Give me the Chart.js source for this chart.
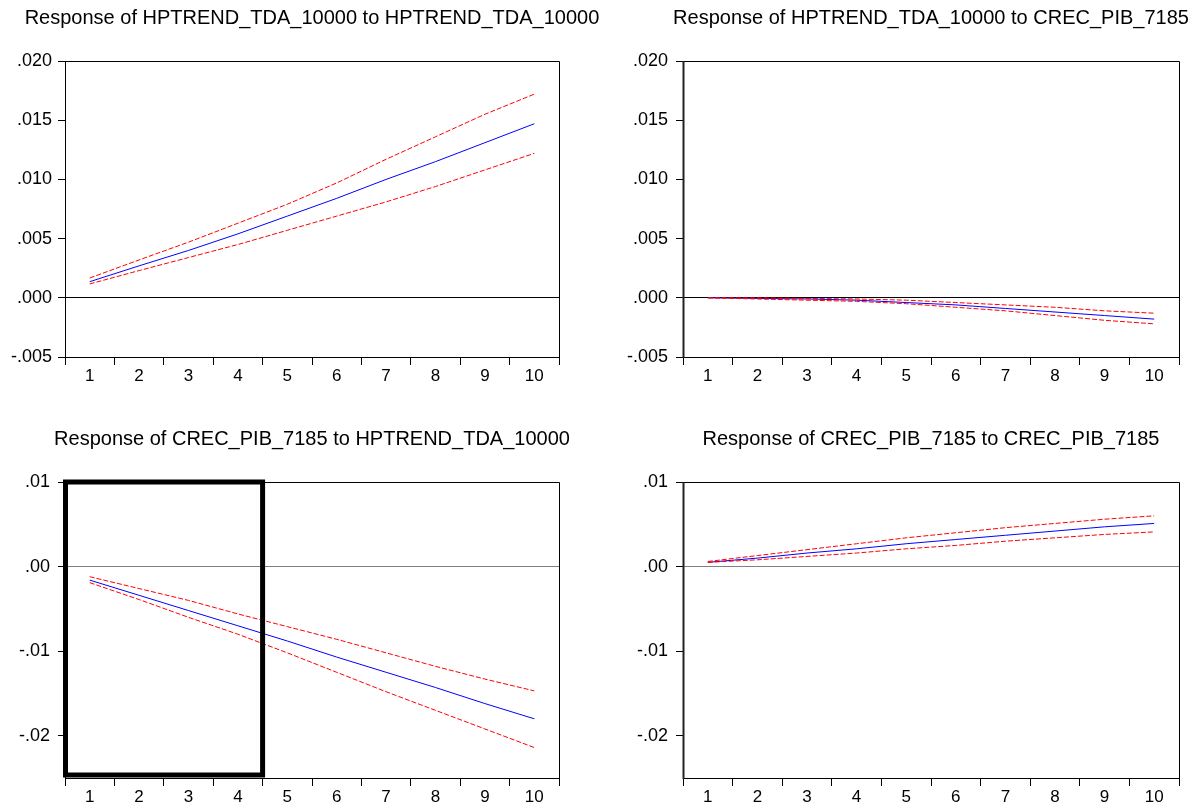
<!DOCTYPE html>
<html>
<head>
<meta charset="utf-8">
<script src="https://cdn.jsdelivr.net/npm/chart.js@4.4.1/dist/chart.umd.min.js"></script>
<style>
  html, body { margin: 0; padding: 0; background: #fff; width: 1200px; height: 807px; overflow: hidden; }
  canvas { position: absolute; }
</style>
</head>
<body>
<canvas id="c1" width="624" height="400" style="left:0px;top:0px"></canvas>
<canvas id="c2" width="662" height="400" style="left:600px;top:0px"></canvas>
<canvas id="c3" width="624" height="400" style="left:0px;top:421px"></canvas>
<canvas id="c4" width="662" height="400" style="left:600px;top:421px"></canvas>
<script>
// ---- Data ----
const periods = ['1', '2', '3', '4', '5', '6', '7', '8', '9', '10'];

// Response of HPTREND_TDA_10000 to HPTREND_TDA_10000
const hpToHp      = [0.00136, 0.0027, 0.0040, 0.0054, 0.0069, 0.0084, 0.0100, 0.0115, 0.0131, 0.0147];
const hpToHpUpper = [0.00167, 0.0032, 0.0047, 0.0063, 0.0079, 0.0097, 0.0117, 0.0136, 0.0155, 0.0172];
const hpToHpLower = [0.00117, 0.0023, 0.0034, 0.0045, 0.0057, 0.0069, 0.0081, 0.0094, 0.0108, 0.0122];

// Response of HPTREND_TDA_10000 to CREC_PIB_7185
const hpToPib      = [0.0, -0.00005, -0.0001, -0.0002, -0.0004, -0.0006, -0.0009, -0.0012, -0.0015, -0.0018];
const hpToPibUpper = [0.0, 0.0, -0.00005, -0.0001, -0.0002, -0.0004, -0.0006, -0.0008, -0.0011, -0.0013];
const hpToPibLower = [0.0, -0.0001, -0.0002, -0.0003, -0.0005, -0.0008, -0.0011, -0.0015, -0.0019, -0.0022];

// Response of CREC_PIB_7185 to HPTREND_TDA_10000
const pibToHp      = [-0.0016, -0.0034, -0.0052, -0.0070, -0.0088, -0.0107, -0.0125, -0.0143, -0.0162, -0.0180];
const pibToHpUpper = [-0.0012, -0.0026, -0.0040, -0.0056, -0.0071, -0.0086, -0.0102, -0.0118, -0.0133, -0.0147];
const pibToHpLower = [-0.0019, -0.0039, -0.0060, -0.0080, -0.0102, -0.0125, -0.0148, -0.0170, -0.0192, -0.0214];

// Response of CREC_PIB_7185 to CREC_PIB_7185
const pibToPib      = [0.0005, 0.0010, 0.0016, 0.0021, 0.0027, 0.0032, 0.0037, 0.0042, 0.0047, 0.0051];
const pibToPibUpper = [0.0006, 0.0013, 0.0020, 0.0027, 0.0034, 0.0040, 0.0046, 0.0051, 0.0056, 0.0060];
const pibToPibLower = [0.0005, 0.0008, 0.0012, 0.0016, 0.0021, 0.0025, 0.0030, 0.0034, 0.0038, 0.0041];

// Tick values / labels
const topTickValues = [-0.005, 0, 0.005, 0.010, 0.015, 0.020];
const topTickLabels = ['-.005', '.000', '.005', '.010', '.015', '.020'];
const bottomTickValues = [-0.02, -0.01, 0, 0.01];
const bottomTickLabels = ['-.02', '-.01', '.00', '.01'];

// Highlight box (periods 1..4) in the lower-left panel
const highlightFrom = '1';
const highlightTo = '4';

const titles = [
  'Response of HPTREND_TDA_10000 to HPTREND_TDA_10000',
  'Response of HPTREND_TDA_10000 to CREC_PIB_7185',
  'Response of CREC_PIB_7185 to HPTREND_TDA_10000',
  'Response of CREC_PIB_7185 to CREC_PIB_7185'
];

// ---- Drawing ----
const FONT = "'Liberation Sans', Arial, sans-serif";

const framePlugin = {
  id: 'frame',
  afterDatasetsDraw(chart, args, opts) {
    const ctx = chart.ctx, a = chart.chartArea;
    const l = Math.round(a.left) + 0.5, r = Math.round(a.right) + 0.5;
    const t = Math.round(a.top) + 0.5, b = Math.round(a.bottom) + 0.5;
    ctx.save();
    ctx.strokeStyle = '#000';
    ctx.lineWidth = 1;
    ctx.beginPath();
    ctx.moveTo(l, t); ctx.lineTo(r, t); ctx.lineTo(r, b); ctx.lineTo(l, b);
    ctx.stroke();
    ctx.lineWidth = opts.leftWidth || 1;
    ctx.strokeStyle = opts.leftColor || '#000';
    ctx.beginPath();
    ctx.moveTo(l, t - 0.5); ctx.lineTo(l, b + 0.5);
    ctx.stroke();
    if (opts.highlight) {
      const xs = chart.scales.x;
      const i0 = periods.indexOf(opts.highlight[0]);
      const i1 = periods.indexOf(opts.highlight[1]);
      const half = (xs.getPixelForValue(1) - xs.getPixelForValue(0)) / 2;
      const x0 = xs.getPixelForValue(i0) - half + 0.5;
      const x1 = xs.getPixelForValue(i1) + half;
      ctx.lineWidth = 5;
      ctx.strokeStyle = '#000';
      ctx.strokeRect(x0, a.top, x1 - x0, a.bottom - 3 - a.top);
    }
    ctx.restore();
  }
};

function makeChart(id, title, mid, upper, lower, tickValues, tickLabels, yMin, yMax, leftW, labelPad, zeroColor, frameOpts) {
  const lineCommon = { pointRadius: 0, borderWidth: 1, tension: 0, fill: false };
  return new Chart(document.getElementById(id), {
    type: 'line',
    data: {
      labels: periods,
      datasets: [
        Object.assign({ data: upper, borderColor: '#FF0000', borderDash: [5, 2] }, lineCommon),
        Object.assign({ data: lower, borderColor: '#FF0000', borderDash: [5, 2] }, lineCommon),
        Object.assign({ data: mid, borderColor: '#0000FF' }, lineCommon)
      ]
    },
    options: {
      responsive: false,
      animation: false,
      devicePixelRatio: 1,
      layout: { padding: 0 },
      plugins: {
        legend: { display: false },
        tooltip: { enabled: false },
        title: {
          display: true,
          text: title,
          color: '#000',
          font: { family: FONT, size: 20, weight: 'normal', lineHeight: 1.2 },
          padding: { top: 6, bottom: 31 }
        },
        frame: frameOpts
      },
      scales: {
        x: {
          type: 'category',
          offset: true,
          grid: { offset: true, drawOnChartArea: false, drawTicks: true, tickLength: 8, color: '#000', tickColor: '#000', lineWidth: 1 },
          border: { display: false },
          ticks: { color: '#000', font: { family: FONT, size: 17 }, padding: 1, maxRotation: 0, autoSkip: false },
          afterFit(s) { s.height = 43; }
        },
        y: {
          type: 'linear',
          position: 'left',
          min: yMin,
          max: yMax,
          afterBuildTicks(s) { s.ticks = tickValues.map(v => ({ value: v })); },
          grid: {
            drawTicks: true,
            tickLength: 7,
            tickColor: '#000',
            lineWidth: 1,
            color: c => (c.tick && Math.abs(c.tick.value) < 1e-12) ? zeroColor : 'rgba(0,0,0,0)'
          },
          border: { display: false },
          ticks: {
            color: '#000',
            padding: labelPad,
            font: { family: FONT, size: 18 },
            callback: (v) => {
              const i = tickValues.findIndex(t => Math.abs(t - v) < 1e-9);
              return i >= 0 ? tickLabels[i] : '';
            }
          },
          afterFit(s) { s.width = leftW; }
        },
        yRight: {
          type: 'linear',
          position: 'right',
          display: true,
          grid: { display: false },
          border: { display: false },
          ticks: { display: false },
          afterFit(s) { s.width = leftW; }
        }
      }
    },
    plugins: [framePlugin]
  });
}

makeChart('c1', titles[0], hpToHp, hpToHpUpper, hpToHpLower, topTickValues, topTickLabels, -0.005, 0.020, 65, 6, '#000', {});
makeChart('c2', titles[1], hpToPib, hpToPibUpper, hpToPibLower, topTickValues, topTickLabels, -0.005, 0.020, 83, 8, '#000', { leftWidth: 2, leftColor: '#222' });
makeChart('c3', titles[2], pibToHp, pibToHpUpper, pibToHpLower, bottomTickValues, bottomTickLabels, -0.025, 0.010, 65, 8, '#808080', { highlight: [highlightFrom, highlightTo] });
makeChart('c4', titles[3], pibToPib, pibToPibUpper, pibToPibLower, bottomTickValues, bottomTickLabels, -0.025, 0.010, 83, 8, '#808080', { leftWidth: 2, leftColor: '#222' });
</script>
</body>
</html>
